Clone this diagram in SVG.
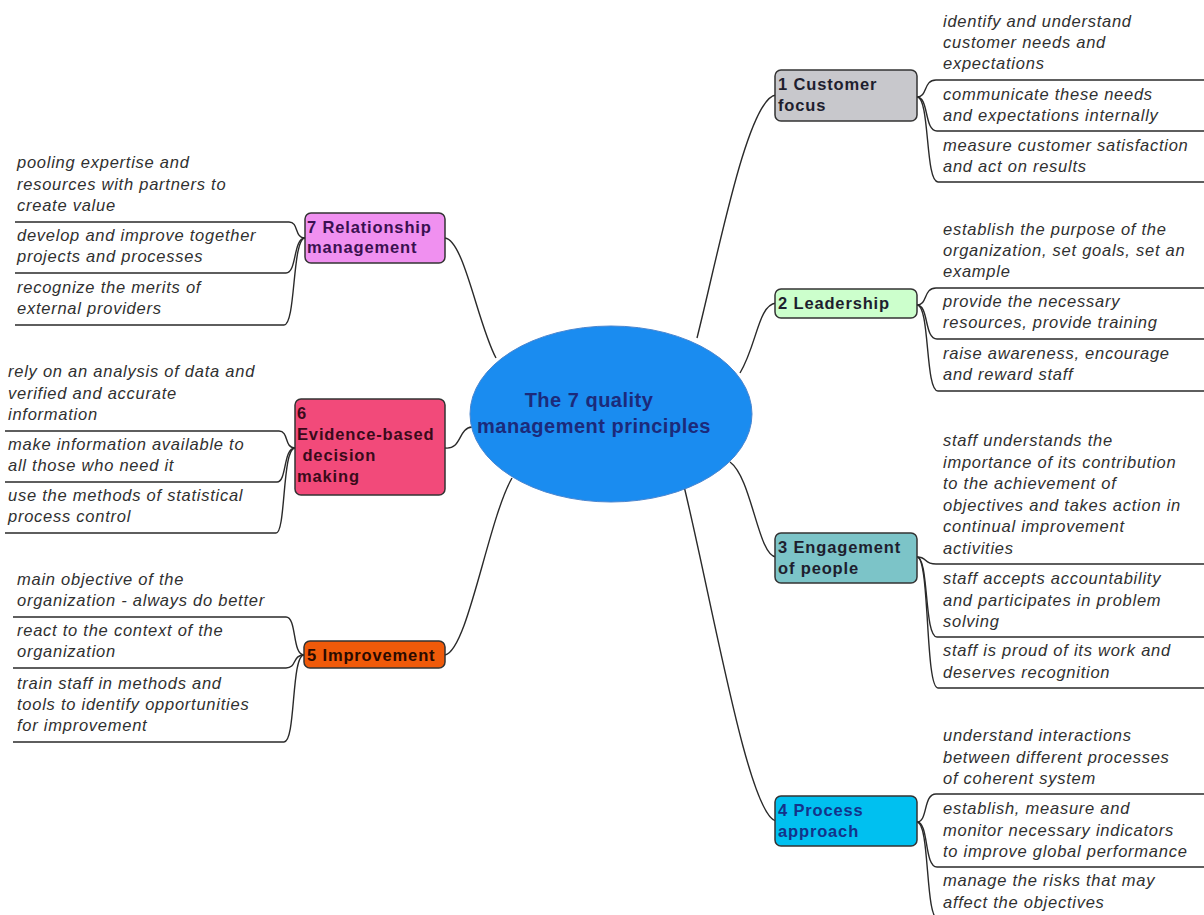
<svg xmlns="http://www.w3.org/2000/svg" width="1204" height="915" viewBox="0 0 1204 915">
<style>
.conn{fill:none;stroke:#2a2a2a;stroke-width:1.4}
.box{stroke:#333;stroke-width:1.5}
.nt{font-family:"Liberation Sans",Arial,sans-serif;font-weight:bold;font-size:16.5px;letter-spacing:0.85px;fill:#1e1e2e}
.lt{font-family:"Liberation Sans",Arial,sans-serif;font-style:italic;font-size:16.5px;letter-spacing:0.75px;fill:#303030}
.title{font-family:"Liberation Sans",Arial,sans-serif;font-weight:bold;font-size:20px;letter-spacing:0.5px;fill:#1c2a7a;text-anchor:middle}
</style>
<rect width="1204" height="915" fill="#fff"/>
<g id="connectors">
<path class="conn" d="M697,338 C718,255 748,97 776,95"/>
<path class="conn" d="M740,373 C757,345 758,305 776,303"/>
<path class="conn" d="M730,462 C752,478 758,556 776,557"/>
<path class="conn" d="M683,482 C712,600 748,815 776,821"/>
<path class="conn" d="M445,238 C464,240 478,325 496,358"/>
<path class="conn" d="M445,448 C462,450 458,428 472,427"/>
<path class="conn" d="M445,655 C468,650 488,520 512,478"/>
<path class="conn" d="M917,97 C928,97 923,80 936,80 H1204"/>
<path class="conn" d="M917,97 C929,97 924,131 937,131 H1204"/>
<path class="conn" d="M917,97 C930,97 925,182 938,182 H1204"/>
<path class="conn" d="M917,305 C928,305 923,288 936,288 H1204"/>
<path class="conn" d="M917,305 C929,305 924,339 937,339 H1204"/>
<path class="conn" d="M917,305 C930,305 925,391 938,391 H1204"/>
<path class="conn" d="M917,557 C928,557 923,564 936,564 H1204"/>
<path class="conn" d="M917,557 C929,557 924,637 937,637 H1204"/>
<path class="conn" d="M917,557 C930,557 925,688 938,688 H1204"/>
<path class="conn" d="M917,822 C928,822 923,794 936,794 H1204"/>
<path class="conn" d="M917,822 C929,822 924,867 937,867 H1204"/>
<path class="conn" d="M917,822 C930,822 925,919 938,919 H1204"/>
<path class="conn" d="M305,238 C294,238 299,222 289,222 H15"/>
<path class="conn" d="M305,238 C293,238 297,273 286,273 H15"/>
<path class="conn" d="M305,238 C292,238 296,325 284,325 H15"/>
<path class="conn" d="M295,448 C284,448 289,431 279,431 H5"/>
<path class="conn" d="M295,448 C283,448 287,482 277,482 H5"/>
<path class="conn" d="M295,448 C282,448 286,533 276,533 H5"/>
<path class="conn" d="M304,655 C292,655 297,617 286,617 H13"/>
<path class="conn" d="M304,655 C292,655 297,668 286,668 H13"/>
<path class="conn" d="M304,655 C291,655 296,742 284,742 H13"/>
</g>
<g id="center">
<ellipse cx="611" cy="414" rx="141" ry="88" fill="#1a8cf0" stroke="#4a86d0" stroke-width="1"/>
<text class="title" x="589" y="407">The 7 quality</text>
<text class="title" x="594" y="433">management principles</text>
</g>
<g id="node1">
<rect class="box" x="775" y="70" width="142" height="51" rx="6" fill="#c8c8cc"/>
<text class="nt" x="778" y="90">1 Customer</text>
<text class="nt" x="778" y="111">focus</text>
<text class="lt"><tspan x="943" y="27">identify and understand</tspan><tspan x="943" y="48">customer needs and</tspan><tspan x="943" y="69">expectations</tspan></text>
<text class="lt"><tspan x="943" y="100">communicate these needs</tspan><tspan x="943" y="121">and expectations internally</tspan></text>
<text class="lt"><tspan x="943" y="151">measure customer satisfaction</tspan><tspan x="943" y="172">and act on results</tspan></text>
</g>
<g id="node2">
<rect class="box" x="775" y="289" width="142" height="29" rx="6" fill="#ccffcc"/>
<text class="nt" x="778" y="309">2 Leadership</text>
<text class="lt"><tspan x="943" y="235">establish the purpose of the</tspan><tspan x="943" y="256">organization, set goals, set an</tspan><tspan x="943" y="277">example</tspan></text>
<text class="lt"><tspan x="943" y="307">provide the necessary</tspan><tspan x="943" y="328">resources, provide training</tspan></text>
<text class="lt"><tspan x="943" y="359">raise awareness, encourage</tspan><tspan x="943" y="380">and reward staff</tspan></text>
</g>
<g id="node3">
<rect class="box" x="775" y="533" width="142" height="50" rx="6" fill="#7cc4c8"/>
<text class="nt" x="778" y="553">3 Engagement</text>
<text class="nt" x="778" y="574">of people</text>
<text class="lt"><tspan x="943" y="446">staff understands the</tspan><tspan x="943" y="467.5">importance of its contribution</tspan><tspan x="943" y="489">to the achievement of</tspan><tspan x="943" y="510.5">objectives and takes action in</tspan><tspan x="943" y="532">continual improvement</tspan><tspan x="943" y="553.5">activities</tspan></text>
<text class="lt"><tspan x="943" y="584">staff accepts accountability</tspan><tspan x="943" y="605.5">and participates in problem</tspan><tspan x="943" y="627">solving</tspan></text>
<text class="lt"><tspan x="943" y="656">staff is proud of its work and</tspan><tspan x="943" y="677.5">deserves recognition</tspan></text>
</g>
<g id="node4">
<rect class="box" x="775" y="796" width="142" height="50" rx="6" fill="#00c0f0"/>
<text class="nt" x="778" y="816" style="fill:#14338a">4 Process</text>
<text class="nt" x="778" y="837" style="fill:#14338a">approach</text>
<text class="lt"><tspan x="943" y="741">understand interactions</tspan><tspan x="943" y="762.5">between different processes</tspan><tspan x="943" y="784">of coherent system</tspan></text>
<text class="lt"><tspan x="943" y="814">establish, measure and</tspan><tspan x="943" y="835.5">monitor necessary indicators</tspan><tspan x="943" y="857">to improve global performance</tspan></text>
<text class="lt"><tspan x="943" y="886">manage the risks that may</tspan><tspan x="943" y="907.5">affect the objectives</tspan></text>
</g>
<g id="node5">
<rect class="box" x="304" y="641" width="141" height="27" rx="6" fill="#f05a0a"/>
<text class="nt" x="307" y="661" style="fill:#2a0a00">5 Improvement</text>
<text class="lt"><tspan x="17" y="585">main objective of the</tspan><tspan x="17" y="606">organization - always do better</tspan></text>
<text class="lt"><tspan x="17" y="636">react to the context of the</tspan><tspan x="17" y="657">organization</tspan></text>
<text class="lt"><tspan x="17" y="689">train staff in methods and</tspan><tspan x="17" y="710">tools to identify opportunities</tspan><tspan x="17" y="731">for improvement</tspan></text>
</g>
<g id="node6">
<rect class="box" x="295" y="399" width="150" height="96" rx="6" fill="#f24a7a"/>
<text class="nt" style="fill:#3a0a1a"><tspan x="297" y="419">6</tspan><tspan x="297" y="440">Evidence-based</tspan><tspan x="297" y="461"> decision</tspan><tspan x="297" y="482">making</tspan></text>
<text class="lt"><tspan x="8" y="377">rely on an analysis of data and</tspan><tspan x="8" y="398.5">verified and accurate</tspan><tspan x="8" y="420">information</tspan></text>
<text class="lt"><tspan x="8" y="450">make information available to</tspan><tspan x="8" y="471">all those who need it</tspan></text>
<text class="lt"><tspan x="8" y="501">use the methods of statistical</tspan><tspan x="8" y="522">process control</tspan></text>
</g>
<g id="node7">
<rect class="box" x="305" y="213" width="140" height="50" rx="6" fill="#f090f0"/>
<text class="nt" x="307" y="233" style="fill:#3a1050">7 Relationship</text>
<text class="nt" x="307" y="253" style="fill:#3a1050">management</text>
<text class="lt"><tspan x="17" y="168">pooling expertise and</tspan><tspan x="17" y="189.5">resources with partners to</tspan><tspan x="17" y="211">create value</tspan></text>
<text class="lt"><tspan x="17" y="241">develop and improve together</tspan><tspan x="17" y="262">projects and processes</tspan></text>
<text class="lt"><tspan x="17" y="293">recognize the merits of</tspan><tspan x="17" y="314">external providers</tspan></text>
</g>
</svg>
